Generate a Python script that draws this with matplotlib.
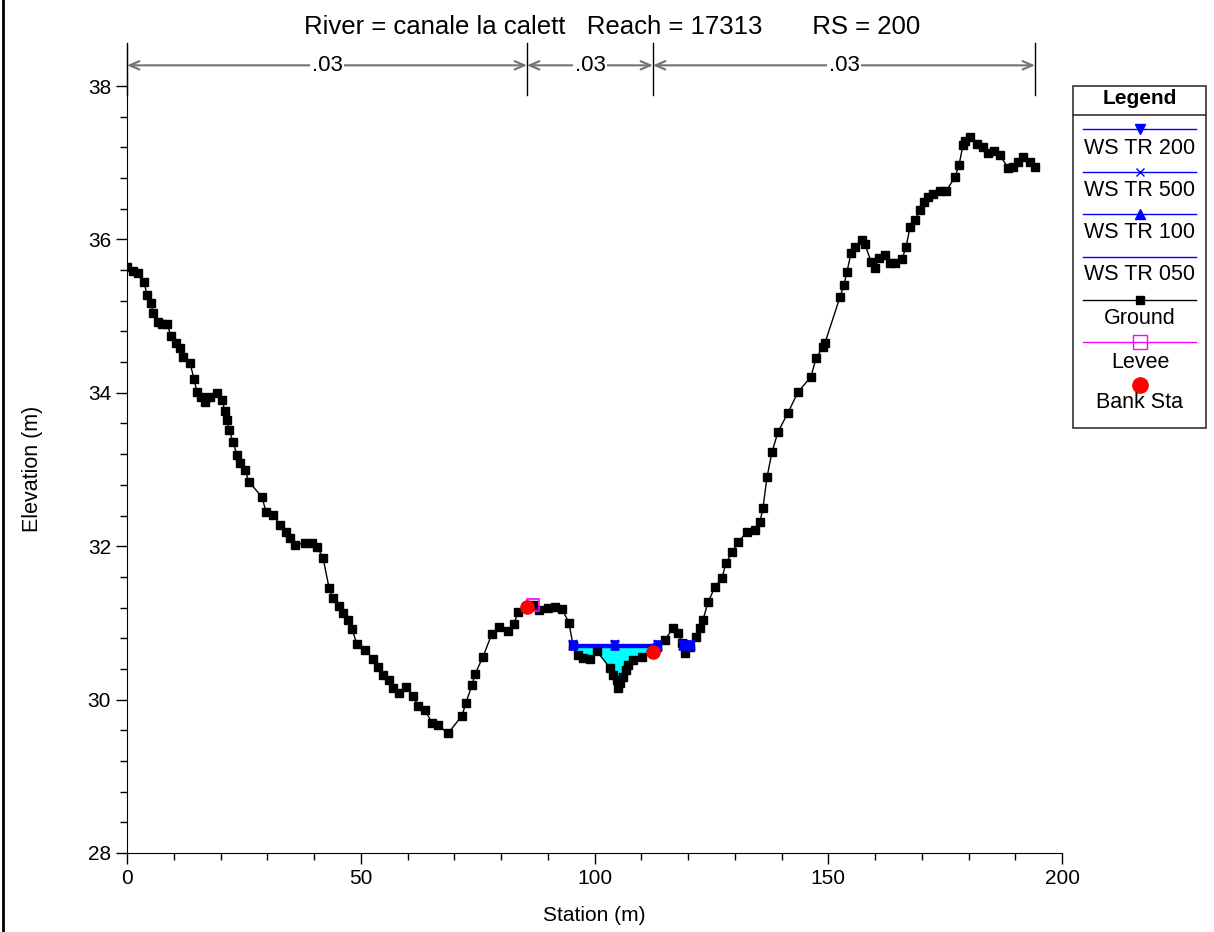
import matplotlib

matplotlib.use("Agg")
import matplotlib.pyplot as plt
import numpy as np
from matplotlib.lines import Line2D
from matplotlib.patches import Rectangle
from matplotlib.ticker import FixedLocator

plt.rcParams["font.family"] = ["Liberation Sans", "DejaVu Sans"]

# --- cross-section data ---
station = [
    0.00, 1.28, 2.35, 3.64, 4.28, 5.13, 5.56, 6.63, 7.49, 8.56,
    9.41, 10.48, 11.34, 11.98, 13.48, 14.33, 14.97, 15.83, 16.68, 17.75,
    19.25, 20.32, 20.96, 21.39, 21.82, 22.67, 23.53, 24.17, 25.24, 26.10,
    28.88, 29.73, 31.23, 32.73, 34.01, 34.87, 35.94, 38.07, 39.57, 40.64,
    41.93, 43.21, 44.06, 45.35, 46.20, 47.27, 48.13, 49.20, 50.91, 52.62,
    53.69, 54.76, 56.04, 56.90, 58.18, 59.68, 61.18, 62.25, 63.74, 65.24,
    66.52, 68.66, 71.66, 72.51, 73.80, 74.44, 76.15, 78.07, 79.57, 81.50,
    82.78, 83.64, 85.56, 86.84, 88.13, 90.05, 91.55, 93.05, 94.55, 95.40,
    96.47, 97.54, 99.04, 100.53, 103.32, 103.96, 104.81, 105.03, 105.45, 106.10,
    106.74, 107.17, 108.24, 110.16, 112.51, 113.37, 115.08, 116.79, 117.86, 118.72,
    119.36, 120.43, 121.71, 122.57, 123.21, 124.28, 125.78, 127.27, 128.13, 129.41,
    130.70, 132.62, 134.33, 135.40, 136.04, 136.90, 137.97, 139.25, 141.39, 143.53,
    146.31, 147.38, 148.88, 149.30, 152.51, 153.37, 154.01, 154.87, 155.72, 157.22,
    157.86, 159.14, 160.00, 160.86, 162.14, 163.21, 164.28, 165.78, 166.63, 167.49,
    168.56, 169.63, 170.48, 171.34, 172.41, 173.90, 175.19, 177.11, 177.97, 178.82,
    179.25, 180.32, 181.82, 183.10, 184.17, 185.45, 186.74, 188.45, 189.52, 190.59,
    191.66, 193.16, 194.22,
]
elevation = [
    35.64, 35.59, 35.56, 35.44, 35.28, 35.17, 35.04, 34.92, 34.90, 34.90,
    34.74, 34.65, 34.58, 34.47, 34.39, 34.18, 34.01, 33.95, 33.88, 33.95,
    34.00, 33.91, 33.76, 33.65, 33.52, 33.36, 33.19, 33.08, 32.99, 32.84,
    32.64, 32.45, 32.41, 32.28, 32.19, 32.11, 32.02, 32.04, 32.04, 31.99,
    31.85, 31.46, 31.32, 31.22, 31.13, 31.04, 30.92, 30.72, 30.65, 30.53,
    30.43, 30.32, 30.26, 30.15, 30.09, 30.16, 30.05, 29.92, 29.86, 29.70,
    29.67, 29.56, 29.79, 29.96, 30.19, 30.33, 30.56, 30.86, 30.95, 30.89,
    30.99, 31.14, 31.21, 31.23, 31.17, 31.19, 31.21, 31.18, 31.00, 30.71,
    30.58, 30.54, 30.53, 30.63, 30.41, 30.32, 30.26, 30.15, 30.22, 30.29,
    30.39, 30.45, 30.52, 30.56, 30.62, 30.69, 30.78, 30.93, 30.87, 30.74,
    30.61, 30.69, 30.82, 30.93, 31.04, 31.27, 31.47, 31.59, 31.78, 31.92,
    32.05, 32.19, 32.21, 32.32, 32.50, 32.90, 33.23, 33.49, 33.74, 34.01,
    34.21, 34.45, 34.60, 34.65, 35.25, 35.41, 35.58, 35.82, 35.90, 35.99,
    35.94, 35.71, 35.63, 35.76, 35.80, 35.69, 35.69, 35.74, 35.90, 36.16,
    36.25, 36.38, 36.49, 36.55, 36.59, 36.63, 36.63, 36.81, 36.97, 37.23,
    37.28, 37.34, 37.24, 37.20, 37.13, 37.15, 37.10, 36.93, 36.94, 37.01,
    37.07, 37.01, 36.94,
]

bank_sta = [85.56, 112.51]
bank_elev = [31.21, 30.62]
levee_sta = [86.90]
levee_elev = [31.24]

# water surface profiles and wetted reaches
ws_names = ["WS TR 200", "WS TR 500", "WS TR 100", "WS TR 050"]
ws_elev = [30.71, 30.72, 30.70, 30.69]
ws_starts = [95.4, 118.9]
ws_ends = [113.5, 120.7]

# Manning's n regions
n_breaks = [0.0, 85.56, 112.51, 194.22]
n_values = [".03", ".03", ".03"]

title = "River = canale la calett   Reach = 17313       RS = 200"

W, H = 1214, 932
fig = plt.figure(figsize=(W / 100, H / 100), dpi=100)
ax = fig.add_axes([127 / W, 79 / H, 935 / W, 808 / H])

x = np.array(station)
z = np.array(elevation)

# water fill
for s0, s1 in zip(ws_starts, ws_ends):
    inside = (x > s0) & (x < s1)
    xf = np.concatenate([[s0], x[inside], [s1]])
    zf = np.concatenate([[np.interp(s0, x, z)], z[inside], [np.interp(s1, x, z)]])
    ax.fill_between(xf, zf, max(ws_elev), color="#00ffff", lw=0, zorder=1)

ax.plot(x, z, color="black", lw=1, marker="s", ms=6, zorder=2)

ws_markers = ["v", "x", "^", None]
for name, elev, mk in zip(ws_names, ws_elev, ws_markers):
    for s0, s1 in zip(ws_starts, ws_ends):
        xs = [s0, (s0 + s1) / 2, s1] if s1 - s0 > 5 else [s0, s1]
        ax.plot(xs, [elev] * len(xs), color="blue", lw=1, marker=mk,
                ms=6, mew=1.2, zorder=3)

ax.plot(levee_sta, levee_elev, ls="none", marker="s", ms=9, mfc="none",
        mec="magenta", mew=1.2, zorder=4)
ax.plot(bank_sta, bank_elev, ls="none", marker="o", ms=9.5, color="red", zorder=5)

# n-value annotation above the section
y_arrow = 38.27
for xb in n_breaks:
    ax.plot([xb, xb], [37.88, 38.56], color="black", lw=1, clip_on=False, zorder=6)
for a, b, nv in zip(n_breaks[:-1], n_breaks[1:], n_values):
    ax.annotate("", xy=(a, y_arrow), xytext=(b, y_arrow),
                arrowprops=dict(arrowstyle="<->,head_length=0.7,head_width=0.3",
                                color="0.45", lw=1.5, shrinkA=0, shrinkB=0),
                annotation_clip=False)
    ax.text((a + b) / 2, y_arrow, nv, ha="center", va="center", fontsize=16,
            bbox=dict(facecolor="white", edgecolor="none", pad=1), zorder=7)

ax.set_xlim(0, 200)
ax.set_ylim(28, 38.535)
ax.set_xticks([0, 50, 100, 150, 200])
ax.set_yticks([28, 30, 32, 34, 36, 38])
ax.xaxis.set_minor_locator(FixedLocator(np.arange(0, 201, 10)))
ax.yaxis.set_minor_locator(FixedLocator(np.arange(28, 38.01, 0.4)))
ax.tick_params(which="major", direction="out", length=8, width=1, labelsize=15)
ax.tick_params(which="minor", direction="out", length=5, width=1)
ax.spines["top"].set_visible(False)
ax.spines["right"].set_visible(False)

ax.set_xlabel("Station (m)", fontsize=15)
ax.xaxis.set_label_coords(0.5, -0.065)
ax.set_ylabel("Elevation (m)", fontsize=15.5)
ax.yaxis.set_label_coords(-0.0895, 0.475)

fig.text(612 / W, 1 - 27 / H, title, ha="center", va="center", fontsize=18.5)

# left border of the frame
fig.add_artist(Line2D([2.5 / W, 2.5 / W], [0, 1], color="black", lw=2))


# hand-built legend box (sample line above each label)
def fx(px):
    return px / W


def fy(py):
    return 1 - py / H


fig.add_artist(Rectangle((fx(1073), fy(428)), fx(1206) - fx(1073), fy(86) - fy(428),
                         fill=False, ec="0.2", lw=1.2))
fig.add_artist(Line2D([fx(1073), fx(1206)], [fy(115), fy(115)], color="0.2", lw=1.2))
fig.text(fx(1140), fy(99), "Legend", ha="center", va="center", fontsize=15,
         fontweight="bold")

legend_items = [
    ("WS TR 200", dict(color="blue", marker="v", ms=7)),
    ("WS TR 500", dict(color="blue", marker="x", ms=6)),
    ("WS TR 100", dict(color="blue", marker="^", ms=7)),
    ("WS TR 050", dict(color="blue")),
    ("Ground", dict(color="black", marker="s", ms=6)),
    ("Levee", dict(color="magenta", marker="s", ms=10, mfc="none")),
    ("Bank Sta", dict(color="red", marker="o", ms=11, ls="none")),
]
line_y = [129, 172, 214, 257, 300, 342, 385]
label_y = [148, 190, 233, 275, 319, 362, 403]
for (label, style), ly, ty in zip(legend_items, line_y, label_y):
    if style.get("ls") == "none":
        fig.add_artist(Line2D([fx(1140)], [fy(ly)], **style))
    else:
        fig.add_artist(Line2D([fx(1083), fx(1140), fx(1196)], [fy(ly)] * 3, lw=1,
                              markevery=[1], **style))
    fig.text(fx(1140), fy(ty), label, ha="center", va="center", fontsize=15.5)

fig.savefig("out.png", dpi=100)
